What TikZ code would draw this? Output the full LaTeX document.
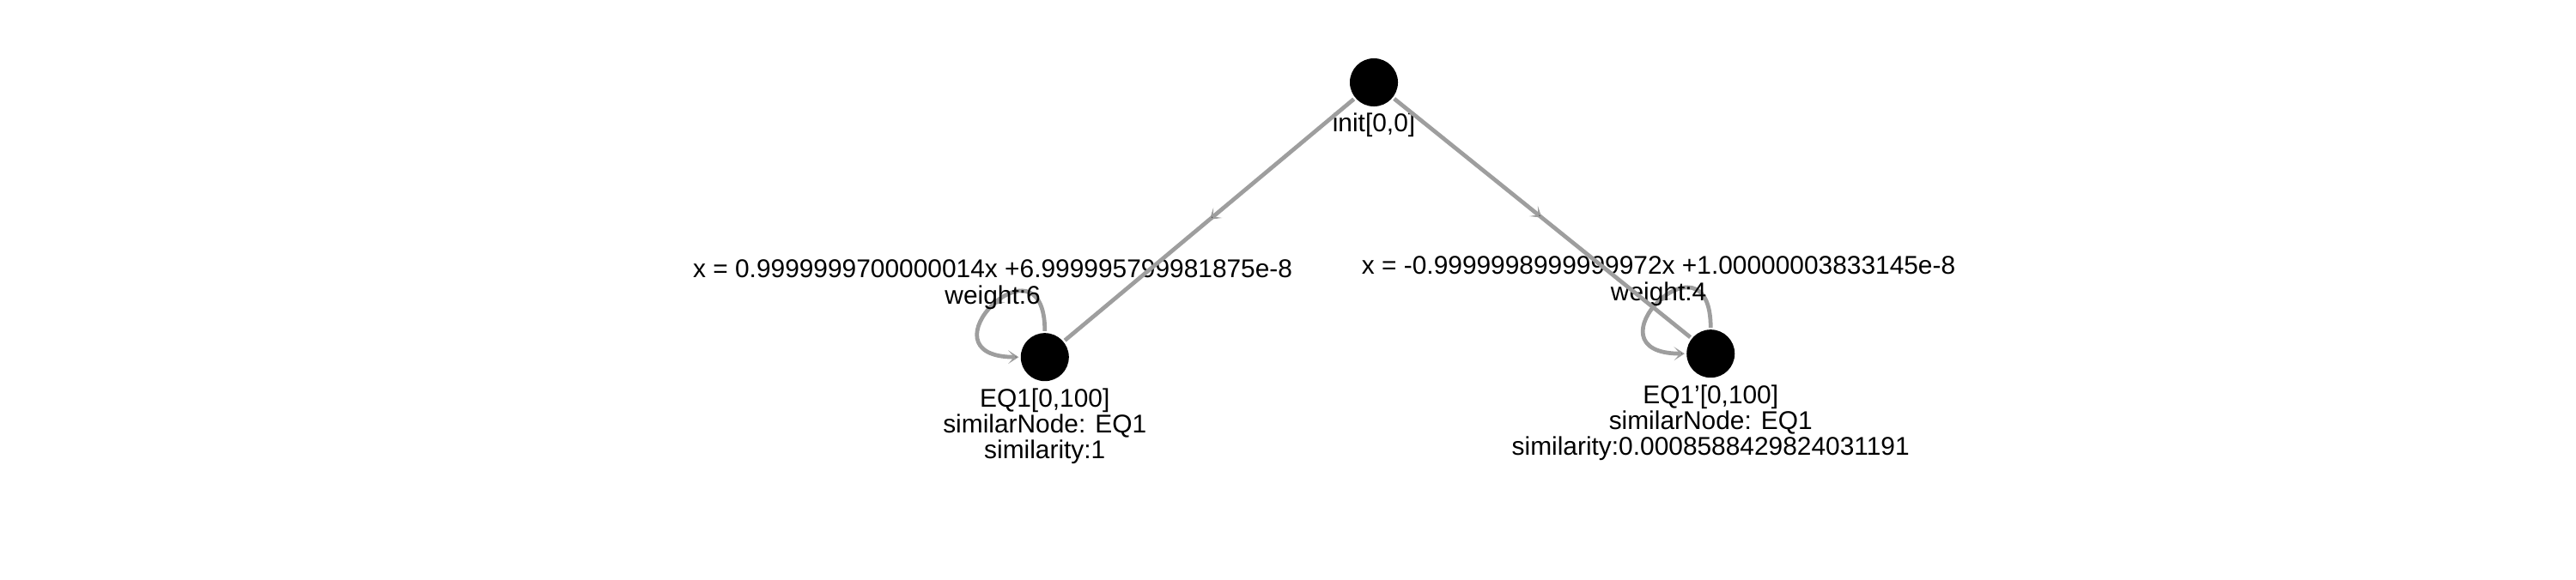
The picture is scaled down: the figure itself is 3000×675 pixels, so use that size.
\documentclass[tikz,border=0pt]{standalone}
\usepackage{fontspec}
\setmainfont{Liberation Sans}
\usetikzlibrary{automata,positioning,arrows.meta,decorations.markings}
\definecolor{edgegray}{RGB}{158,158,158}
\tikzset{
  every state/.style={fill=black,draw=none,minimum size=0.56cm,inner sep=0pt},
  every loop/.style={looseness=7.2},
  info/.style={align=center,inner sep=1pt,font=\fontsize{8.5pt}{8.6pt}\selectfont},
  tip/.tip={Stealth[length=3.5pt,width=4.5pt,inset=2pt]},
  midarrow/.style={postaction={decorate},decoration={markings,mark=at position 0.5 with {\arrow{tip}}}},
  selfloop/.style={out=90,in=180,loop,midarrow,-tip}
}
\begin{document}
\begin{tikzpicture}[x=0.01cm,y=-0.01cm,on grid,line width=1.35pt]
\useasboundingbox (0,0) rectangle (3000,675);

\node[state,label={[info]below:{init[0,0]}}](init) at (1600,96){};
\node[state,label={[info]below:{EQ1[0,100]\\similarNode: EQ1\\similarity:1}}](eq1)[below left=3.2cm and 3.83cm of init]{};
\node[state,label={[info]below:{EQ1'[0,100]\\similarNode: EQ1\\similarity:0.0008588429824031191}}](eq1p)[below right=3.16cm and 3.92cm of init]{};

\path[draw=edgegray]
	 (eq1)edge[selfloop] node[info,above,yshift=-3pt]{x = 0.9999999700000014x +6.999995799981875e-8\\weight:6}()
	 (eq1p)edge[selfloop] node[info,above,yshift=-3pt]{x = -0.9999998999999972x +1.00000003833145e-8\\weight:4}()
	 (init)edge[midarrow](eq1)
	 (init)edge[midarrow](eq1p)
	 ;

\end{tikzpicture}
\end{document}
